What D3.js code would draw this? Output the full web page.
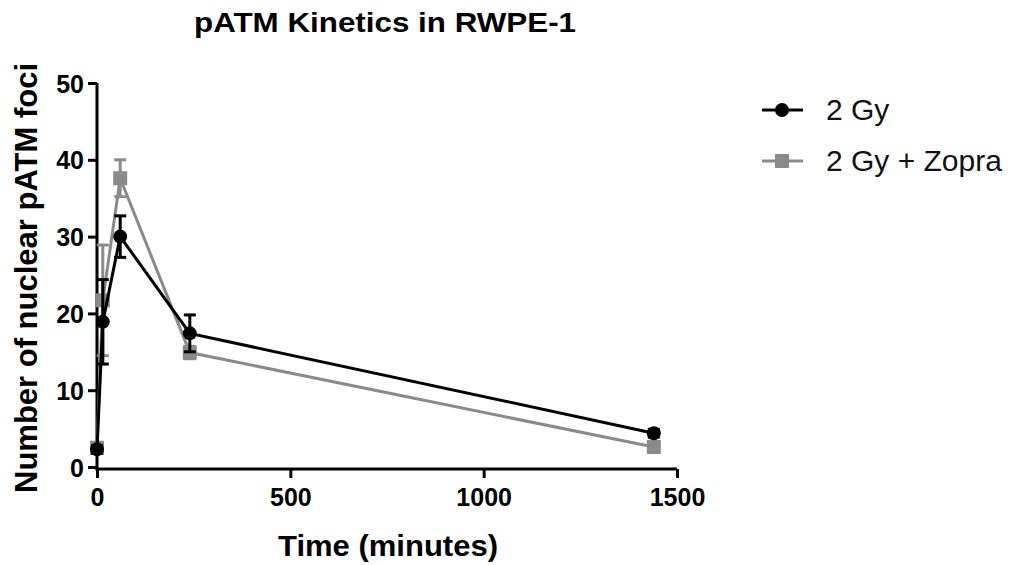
<!DOCTYPE html>
<html>
<head>
<meta charset="utf-8">
<script src="https://cdn.jsdelivr.net/npm/d3@7"></script>
<style>
  body { margin: 0; background: #fff; }
  svg { font-family: "Liberation Sans", Arial, sans-serif; }
</style>
</head>
<body>
<script>
// Data
const times = [0, 15, 60, 240, 1440];
const gyMean = [2.3, 18.9, 30.0, 17.4, 4.4];
const gyErr = [0.5, 5.5, 2.7, 2.4, 0.5];
const zopraMean = [2.5, 21.7, 37.6, 14.9, 2.6];
const zopraErr = [0.7, 7.2, 2.4, 0.8, 0.4];
const xTicks = [0, 500, 1000, 1500];
const yTicks = [0, 10, 20, 30, 40, 50];

const w = 1016;
const h = 565;

const xScale = d3.scaleLinear().domain([0, 1500]).range([97, 677]);
const yScale = d3.scaleLinear().domain([0, 50]).range([467, 83]);

const svg = d3
  .select('body')
  .append('svg')
  .attr('width', w)
  .attr('height', h);

// Title (slightly stretched, like the source)
svg
  .append('text')
  .attr('transform', 'translate(385,32) scale(1.12,1)')
  .attr('text-anchor', 'middle')
  .attr('font-size', 28)
  .attr('font-weight', 'bold')
  .text('pATM Kinetics in RWPE-1');

// Axes
const xAxis = d3.axisBottom(xScale).tickValues(xTicks).tickSize(9).tickPadding(10).tickFormat(d3.format('d'));
const yAxis = d3.axisLeft(yScale).tickValues(yTicks).tickSize(9).tickPadding(4);

const gx = svg
  .append('g')
  .attr('transform', 'translate(0,' + 469 + ')')
  .call(xAxis);
const gy = svg
  .append('g')
  .attr('transform', 'translate(' + 97 + ',0)')
  .call(yAxis);

[gx, gy].forEach(g => {
  g.select('.domain').attr('stroke', '#000').attr('stroke-width', 3);
  g.selectAll('.tick line').attr('stroke', '#000').attr('stroke-width', 3);
  g.selectAll('.tick text')
    .attr('fill', '#000')
    .attr('font-size', 25)
    .attr('font-weight', 'bold')
    .attr('font-family', '"Liberation Sans", Arial, sans-serif');
});
gy.select('.domain').attr('d', 'M0,' + (yScale(0) + 3) + 'V' + yScale(50));
gx.select('.domain').attr('d', 'M' + (xScale(0) - 1.5) + ',0H' + xScale(1500));
gy.selectAll('.tick text').attr('dy', '0.36em');

// Axis titles
svg
  .append('text')
  .attr('transform', 'translate(388,556) scale(1.07,1)')
  .attr('text-anchor', 'middle')
  .attr('font-size', 29)
  .attr('font-weight', 'bold')
  .text('Time (minutes)');

svg
  .append('text')
  .attr('transform', 'translate(37,' + 278 + ') rotate(-90)')
  .attr('text-anchor', 'middle')
  .attr('font-size', 31)
  .attr('font-weight', 'bold')
  .text('Number of nuclear pATM foci');

const series = [
  { name: '2 Gy + Zopra', mean: zopraMean, err: zopraErr, color: '#8a8a8a', shape: 'square' },
  { name: '2 Gy', mean: gyMean, err: gyErr, color: '#000000', shape: 'circle' }
];

const line = d3
  .line()
  .x(d => xScale(d[0]))
  .y(d => yScale(d[1]));

series.forEach(s => {
  const pts = times.map((t, i) => [t, s.mean[i], s.err[i]]);
  const g = svg.append('g');

  // error bars
  const eb = g.selectAll('.err').data(pts).enter().append('g');
  eb.append('line')
    .attr('x1', d => xScale(d[0]))
    .attr('x2', d => xScale(d[0]))
    .attr('y1', d => yScale(d[1] - d[2]))
    .attr('y2', d => yScale(d[1] + d[2]))
    .attr('stroke', s.color)
    .attr('stroke-width', 3);
  [-1, 1].forEach(sign => {
    eb.append('line')
      .attr('x1', d => xScale(d[0]) - 6)
      .attr('x2', d => xScale(d[0]) + 6)
      .attr('y1', d => yScale(d[1] + sign * d[2]))
      .attr('y2', d => yScale(d[1] + sign * d[2]))
      .attr('stroke', s.color)
      .attr('stroke-width', 3);
  });

  g.append('path')
    .datum(pts)
    .attr('d', line)
    .attr('fill', 'none')
    .attr('stroke', s.color)
    .attr('stroke-width', 3);

  if (s.shape === 'circle') {
    g.selectAll('circle')
      .data(pts)
      .enter()
      .append('circle')
      .attr('cx', d => xScale(d[0]))
      .attr('cy', d => yScale(d[1]))
      .attr('r', 7)
      .attr('fill', s.color);
  } else {
    g.selectAll('rect')
      .data(pts)
      .enter()
      .append('rect')
      .attr('x', d => xScale(d[0]) - 7)
      .attr('y', d => yScale(d[1]) - 7)
      .attr('width', 14)
      .attr('height', 14)
      .attr('fill', s.color);
  }
});

// Legend
const legend = [
  { name: '2 Gy', color: '#000000', shape: 'circle', y: 110 },
  { name: '2 Gy + Zopra', color: '#8a8a8a', shape: 'square', y: 161 }
];
legend.forEach(l => {
  const g = svg.append('g');
  g.append('line')
    .attr('x1', 762)
    .attr('x2', 803)
    .attr('y1', l.y)
    .attr('y2', l.y)
    .attr('stroke', l.color)
    .attr('stroke-width', 3);
  if (l.shape === 'circle') {
    g.append('circle').attr('cx', 782).attr('cy', l.y).attr('r', 7).attr('fill', l.color);
  } else {
    g.append('rect').attr('x', 775).attr('y', l.y - 7).attr('width', 14).attr('height', 14).attr('fill', l.color);
  }
  g.append('text')
    .attr('x', 826)
    .attr('y', l.y + 10)
    .attr('font-size', 30)
    .attr('fill', '#111')
    .text(l.name);
});
</script>
</body>
</html>
